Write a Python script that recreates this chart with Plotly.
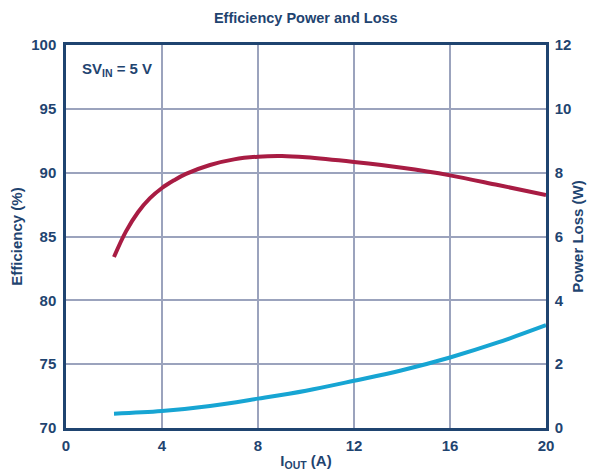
import plotly.graph_objects as go

iout = [2, 2.5, 3, 3.5, 4, 4.5, 5, 6, 7, 8, 9, 10, 12, 14, 16, 18, 20]
efficiency = [83.4, 85.4, 86.9, 88.0, 88.8, 89.4, 89.9, 90.6, 91.04, 91.25, 91.3, 91.2, 90.83, 90.38, 89.79, 89.03, 88.25]

iout_loss = [2, 4, 6, 8, 10, 12, 14, 16, 18, 20]
power_loss = [0.45, 0.53, 0.69, 0.92, 1.17, 1.48, 1.81, 2.21, 2.68, 3.22]

x_ticks = [0, 4, 8, 12, 16, 20]
eff_ticks = [70, 75, 80, 85, 90, 95, 100]
loss_ticks = [0, 2, 4, 6, 8, 10, 12]

navy = "#1f4470"
grid = "#9ba3bd"
font = "Liberation Sans, Arial, sans-serif"
clear = "rgba(0,0,0,0)"

fig = go.Figure()
fig.add_trace(go.Scatter(x=iout, y=efficiency, mode="lines",
                         line=dict(color="#a81c43", width=4, shape="spline", smoothing=1), yaxis="y"))
fig.add_trace(go.Scatter(x=iout_loss, y=power_loss, mode="lines",
                         line=dict(color="#17a5d3", width=4, shape="spline"), yaxis="y2"))

tickfont = dict(family=font, size=15, color=navy)
# the page body has an 8px default margin, so the figure is sized to fill 600x473 from there
fig.update_layout(
    width=592, height=465,
    margin=dict(l=58, r=54, t=37, b=45, autoexpand=False),
    paper_bgcolor="white", plot_bgcolor="white",
    showlegend=False,
    title=dict(text="<b>Efficiency Power and Loss</b>", x=0.503, xanchor="center", y=0.978, yanchor="middle",
               font=dict(family=font, size=14.5, color=navy), automargin=False),
    xaxis=dict(range=[0, 20], tickvals=x_ticks, ticktext=[f"<b>{v}</b>" for v in x_ticks], tickfont=tickfont,
               showgrid=True, gridcolor=grid, gridwidth=1.5, zeroline=False, automargin=False,
               showline=True, linecolor=navy, linewidth=2.5, mirror=True, ticks="outside", ticklen=2, tickcolor=clear,
               title=dict(text="<b>I<sub>OUT</sub> (A)</b>", font=dict(family=font, size=15, color=navy), standoff=3)),
    yaxis=dict(range=[70, 100], tickvals=eff_ticks, ticktext=[f"<b>{v}</b>" for v in eff_ticks], tickfont=tickfont,
               showgrid=True, gridcolor=grid, gridwidth=1.5, zeroline=False, automargin=False,
               showline=True, linecolor=navy, linewidth=2.5, ticks="outside", ticklen=4, tickcolor=clear,
               title=dict(text="<b>Efficiency (%)</b>", font=dict(family=font, size=15, color=navy), standoff=5)),
    yaxis2=dict(range=[0, 12], tickvals=loss_ticks, ticktext=[f"<b>{v}</b>" for v in loss_ticks], tickfont=tickfont,
                overlaying="y", side="right", showgrid=False, zeroline=False, automargin=False,
                showline=True, linecolor=navy, linewidth=2.5, ticks="outside", ticklen=3, tickcolor=clear,
                title=dict(text="<b>Power Loss (W)</b>", font=dict(family=font, size=15, color=navy), standoff=3)),
    annotations=[dict(text="<b>SV<sub>IN</sub> = 5 V</b>", xref="paper", yref="paper", x=0.03, y=0.935,
                      xanchor="left", yanchor="middle", showarrow=False,
                      font=dict(family=font, size=15, color=navy))],
)

fig.write_html("out.html")
